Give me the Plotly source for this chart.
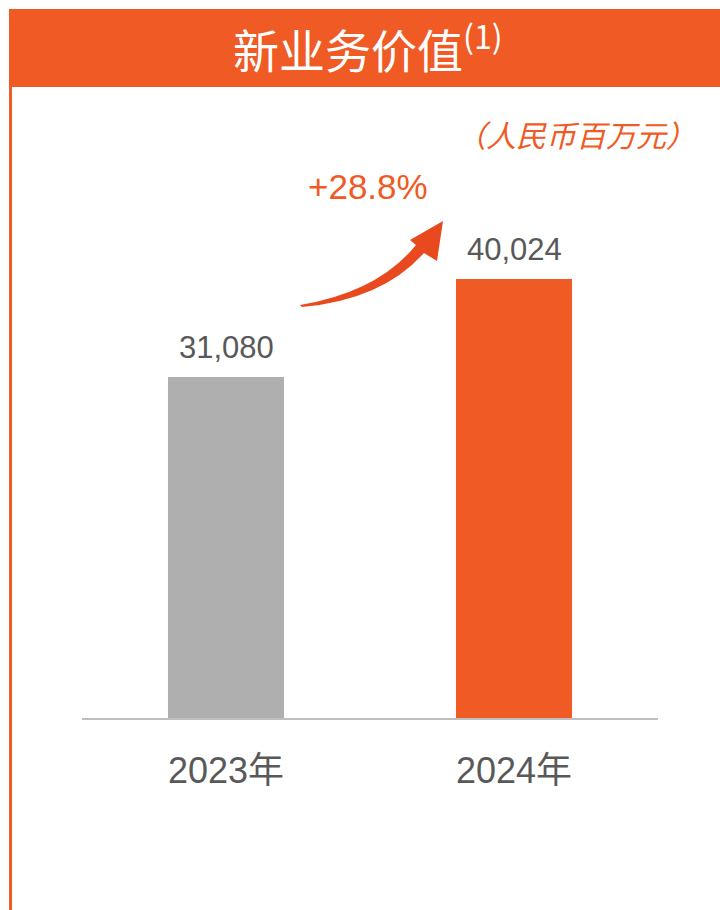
import plotly.graph_objects as go

# ---- data ----
categories = ["2023年", "2024年"]
values = [31080, 40024]
value_labels = ["31,080", "40,024"]
bar_colors = ["#AFAFAF", "#F05A24"]
title_text = "新业务价值"
title_note = "(1)"
unit_text = "（人民币百万元）"
growth_text = "+28.8%"

W, H = 720, 910
L, R, T, B = 82, 62, 100, 192
PW, PH = W - L - R, H - T - B
ORANGE = "#F05A24"
TEXT = "#595959"


def px(x):
    return (x - L) / PW


def py(y):
    return (H - B - y) / PH


fig = go.Figure()
fig.add_trace(go.Bar(
    x=categories, y=values, marker=dict(color=bar_colors, line=dict(width=0)),
    width=0.403, hoverinfo="skip",
))

for c, v, t in zip(categories, values, value_labels):
    fig.add_annotation(x=c, y=v, text=t, showarrow=False, yanchor="bottom", yshift=10,
                       font=dict(family="Liberation Sans, Arial", size=31, color=TEXT))

shapes = []
# header bar
shapes.append(dict(type="rect", xref="paper", yref="paper", x0=px(9), x1=px(720), y0=py(9), y1=py(87),
                   fillcolor=ORANGE, line=dict(width=0), layer="below"))
# left vertical line
shapes.append(dict(type="rect", xref="paper", yref="paper", x0=px(9), x1=px(12), y0=py(87), y1=py(910),
                   fillcolor=ORANGE, line=dict(width=0), layer="below"))

# curved arrow
pts = {
    "tail": (300, 305), "nu": (416, 245), "cu": (378, 292),
    "hl": (410, 240), "tip": (443, 221), "hr": (437, 261),
    "nl": (424, 253), "cl": (382, 300), "tail2": (302, 307),
}


def P(k):
    x, y = pts[k]
    return f"{px(x):.5f},{py(y):.5f}"


path = (f"M {P('tail')} Q {P('cu')} {P('nu')} L {P('hl')} L {P('tip')} L {P('hr')} "
        f"L {P('nl')} Q {P('cl')} {P('tail2')} Z")
shapes.append(dict(type="path", xref="paper", yref="paper", path=path,
                   fillcolor="#E9491F", line=dict(width=0)))

fig.update_layout(shapes=shapes)

fig.add_annotation(xref="paper", yref="paper", x=px(368), y=py(46),
                   text=f"{title_text}<sup>{title_note}</sup>",
                   showarrow=False, xanchor="center", yanchor="middle",
                   font=dict(family="Noto Sans CJK SC", size=46, color="white"))
fig.add_annotation(xref="paper", yref="paper", x=px(576), y=py(134), text=f"<i>{unit_text}</i>",
                   showarrow=False, xanchor="center", yanchor="middle",
                   font=dict(family="Noto Sans CJK SC", size=30, color=ORANGE))
fig.add_annotation(xref="paper", yref="paper", x=px(368), y=py(186), text=growth_text,
                   showarrow=False, xanchor="center", yanchor="middle",
                   font=dict(family="Liberation Sans, Arial", size=35, color=ORANGE))

fig.update_layout(
    width=W, height=H, margin=dict(l=L, r=R, t=T, b=B),
    paper_bgcolor="white", plot_bgcolor="white", showlegend=False,
    xaxis=dict(showline=True, linecolor="#BFBFBF", linewidth=2, ticks="", showgrid=False,
               tickfont=dict(family="Liberation Sans, Noto Sans CJK SC", size=36, color=TEXT),
               ticklabelstandoff=20, range=[-0.5, 1.5]),
    yaxis=dict(visible=False, range=[0, 56340], showgrid=False, zeroline=False),
)

fig.write_html("out.html", post_script="document.body.style.margin='0';",
               config={"displayModeBar": False})
